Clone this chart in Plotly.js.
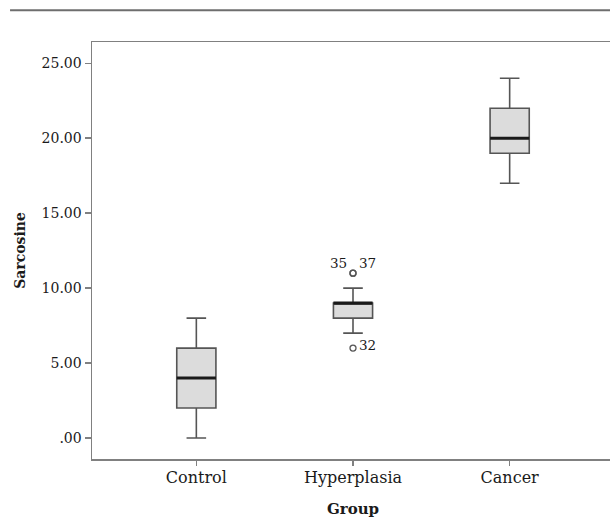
<!DOCTYPE html>
<html>
<head>
<meta charset="utf-8">
<script src="https://cdn.plot.ly/plotly-3.0.1.min.js"></script>
<style>
  html, body { margin: 0; padding: 0; background: #ffffff; overflow: hidden; }
  #chart { width: 614px; height: 519px; }
</style>
</head>
<body>
<div id="chart"></div>
<script>
// ---- Data ----
const categories = ["Control", "Hyperplasia", "Cancer"];
const lowerWhisker = [0, 7, 17];
const q1Values = [2, 8, 19];
const medianValues = [4, 9, 20];
const q3Values = [6, 9, 22];
const upperWhisker = [8, 10, 24];

const outlierGroups = ["Hyperplasia", "Hyperplasia", "Hyperplasia"];
const outlierIds = ["35", "37", "32"];
const outlierValues = [11, 11, 6];

const yTickValues = [0, 5, 10, 15, 20, 25];
const yTickLabels = [".00", "5.00", "10.00", "15.00", "20.00", "25.00"];

// ---- Build traces ----
const positions = categories.map((c, i) => i);
const boxWidth = 0.25;
const serif = "DejaVu Serif, serif";

const boxTrace = {
  type: "box",
  x: positions,
  q1: q1Values,
  median: medianValues,
  q3: q3Values,
  lowerfence: lowerWhisker,
  upperfence: upperWhisker,
  width: boxWidth,
  whiskerwidth: 0.5,
  boxpoints: false,
  fillcolor: "#dcdcdc",
  line: { color: "#555555", width: 1.6 },
  hoverinfo: "skip",
  showlegend: false
};

// Thick median lines
const medX = [], medY = [];
positions.forEach((p, i) => {
  medX.push(p - boxWidth / 2, p + boxWidth / 2, null);
  medY.push(medianValues[i], medianValues[i], null);
});
const medianTrace = {
  type: "scatter", mode: "lines",
  x: medX, y: medY,
  line: { color: "#1a1a1a", width: 3 },
  hoverinfo: "skip", showlegend: false
};

const outX = outlierGroups.map(g => categories.indexOf(g));
const outlierTrace = {
  type: "scatter", mode: "markers",
  x: outX, y: outlierValues,
  marker: { symbol: "circle-open", size: 6, color: "#555555", line: { width: 1.3, color: "#555555" } },
  hoverinfo: "skip", showlegend: false
};

// Outlier labels: when ids share a point, the first goes left, the next goes right
const annotations = [];
const seen = {};
outlierIds.forEach((id, i) => {
  const key = outX[i] + "_" + outlierValues[i];
  const count = seen[key] || 0;
  seen[key] = count + 1;
  const dup = outlierIds.some((o, j) => j !== i && outX[j] === outX[i] && outlierValues[j] === outlierValues[i]);
  const left = dup && count === 0;
  annotations.push({
    x: outX[i], y: outlierValues[i], xref: "x", yref: "y",
    text: id, showarrow: false,
    xanchor: left ? "right" : "left",
    xshift: left ? -4 : 4,
    yshift: dup ? 10 : 3,
    font: { family: serif, size: 13.5, color: "#1a1a1a" }
  });
});

const layout = {
  width: 614, height: 519,
  margin: { l: 92, r: 0, t: 42, b: 60 },
  paper_bgcolor: "#ffffff",
  plot_bgcolor: "#ffffff",
  showlegend: false,
  xaxis: {
    range: [-0.666, 2.666],
    tickvals: positions,
    ticktext: categories,
    showline: true, mirror: true,
    linecolor: "#808080", linewidth: 1.5,
    ticks: "outside", ticklen: 5, tickcolor: "#808080", tickwidth: 1.5,
    ticklabelstandoff: -2,
    tickfont: { family: serif, size: 16, color: "#1a1a1a" },
    showgrid: false, zeroline: false,
    title: { text: "<b>Group</b>", font: { family: serif, size: 15, color: "#1a1a1a" }, standoff: 18 }
  },
  yaxis: {
    range: [-1.4, 26.42],
    tickvals: yTickValues,
    ticktext: yTickLabels,
    showline: true, mirror: false,
    linecolor: "#808080", linewidth: 1.5,
    ticks: "outside", ticklen: 6, tickcolor: "#808080", tickwidth: 1.5,
    tickfont: { family: serif, size: 14, color: "#1a1a1a" },
    showgrid: false, zeroline: false,
    title: { text: "<b>Sarcosine</b>", font: { family: serif, size: 14, color: "#1a1a1a" }, standoff: 12 }
  },
  shapes: [{
    type: "line", xref: "paper", yref: "paper",
    x0: -0.157, x1: 1.0, y0: 1.076, y1: 1.076,
    line: { color: "#6e6e6e", width: 2 }
  }],
  annotations: annotations
};

Plotly.newPlot("chart", [boxTrace, medianTrace, outlierTrace], layout, { displayModeBar: false, staticPlot: true });
</script>
</body>
</html>
